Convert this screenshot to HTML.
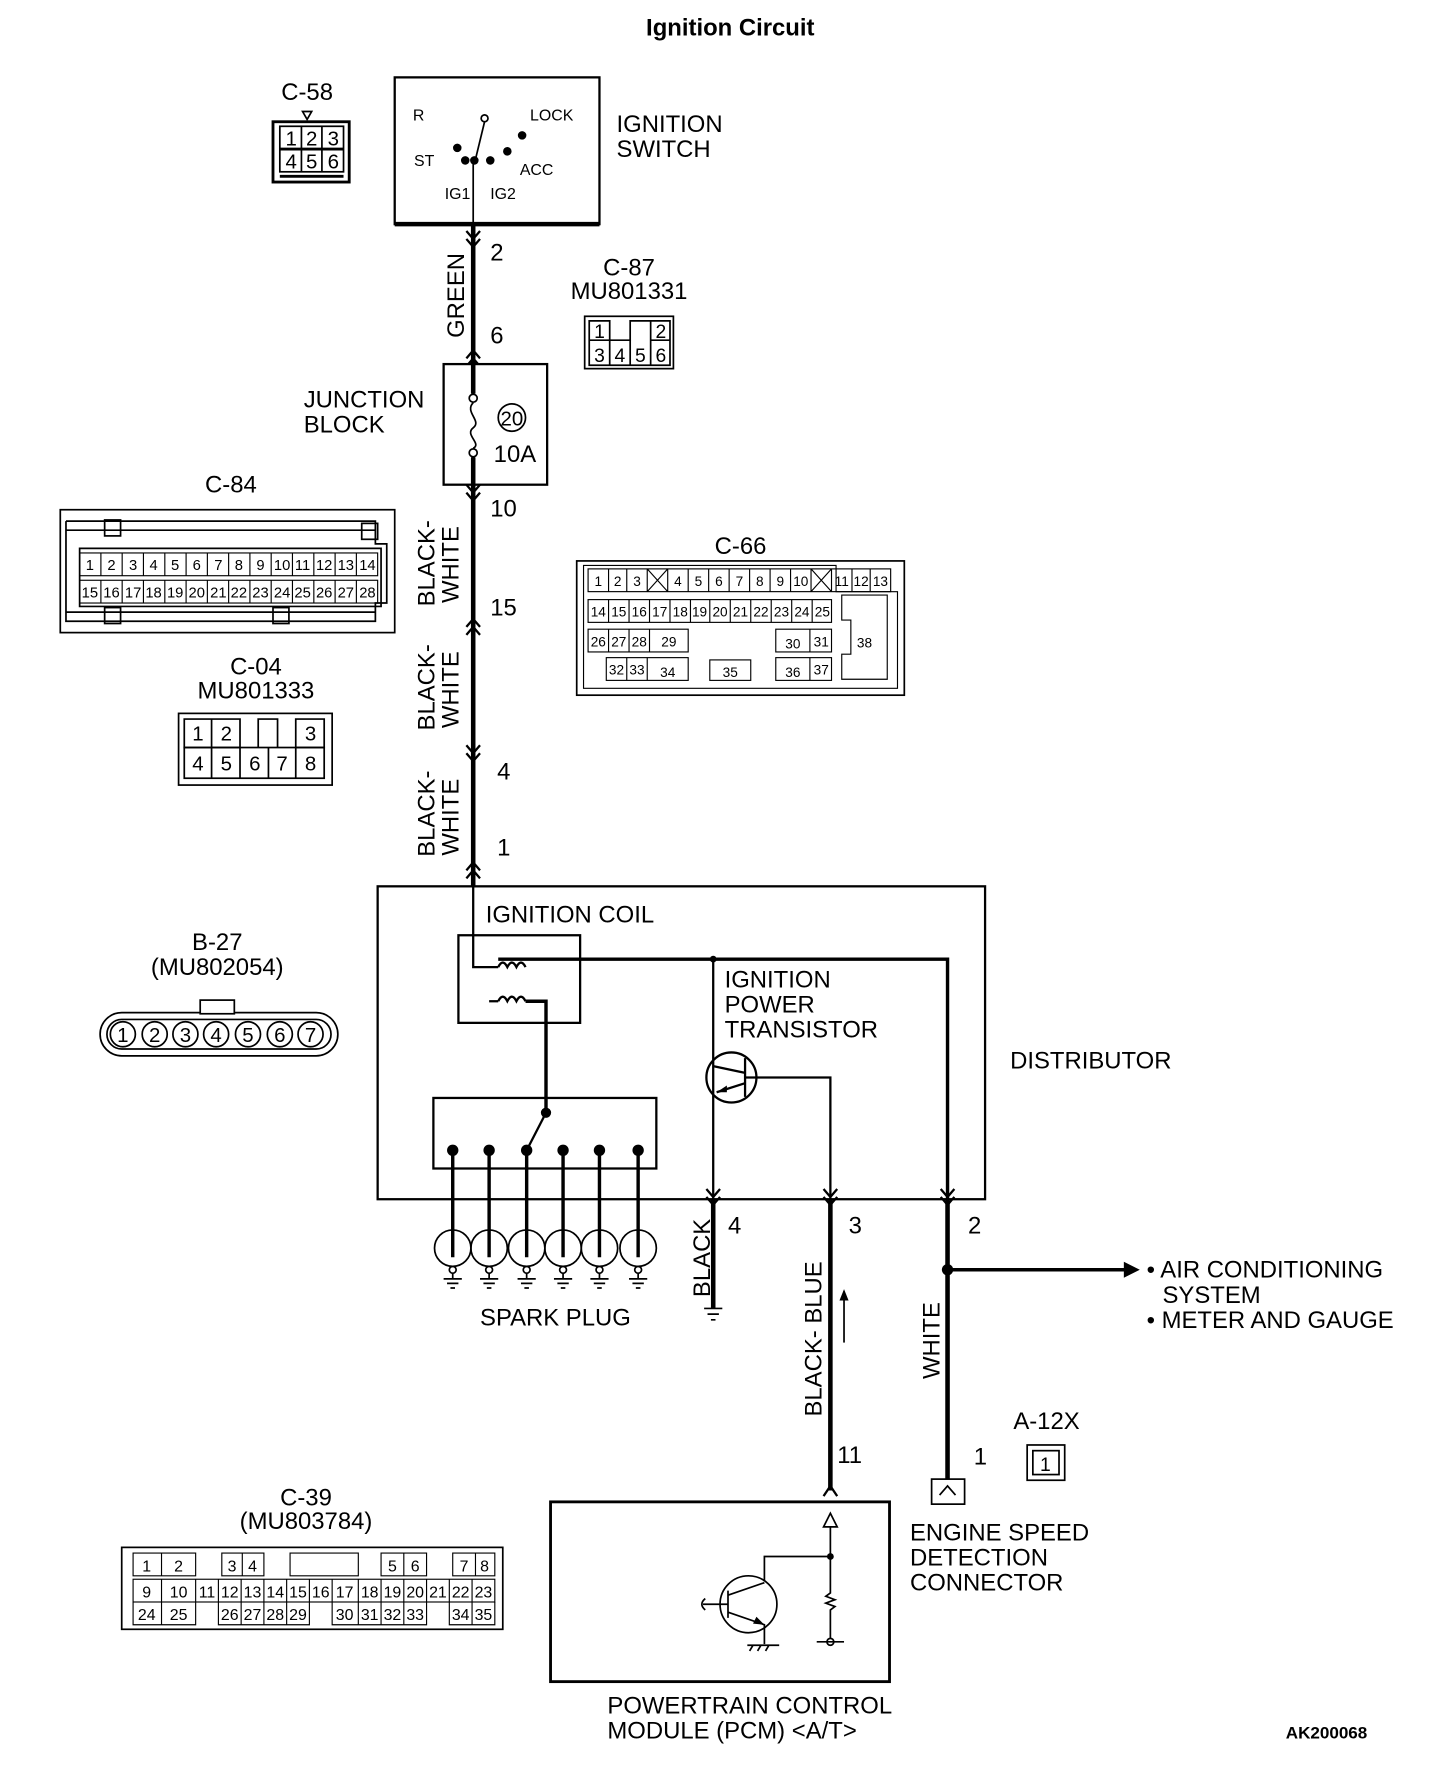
<!DOCTYPE html>
<html><head><meta charset="utf-8"><style>html,body{margin:0;padding:0;background:#fff}svg{display:block}text{font-family:"Liberation Sans",sans-serif;fill:#000}</style></head><body>
<svg width="1456" height="1792" viewBox="0 0 1280 1575" preserveAspectRatio="none" xmlns="http://www.w3.org/2000/svg">
<rect width="1280" height="1575" fill="#fff"/>
<g font-size="21">
<text x="642" y="31" font-size="21" font-weight="bold" text-anchor="middle">Ignition Circuit</text>

<!-- Ignition switch -->
<rect x="347" y="68" width="180" height="129" fill="none" stroke="#000" stroke-width="2"/>
<line x1="347" y1="197" x2="527" y2="197" stroke="#000" stroke-width="4"/>
<g font-size="14"><text x="363" y="106">R</text><text x="466" y="106">LOCK</text><text x="364" y="146">ST</text><text x="457" y="154">ACC</text><text x="391" y="175">IG1</text><text x="431" y="175">IG2</text></g>
<g stroke="#000" stroke-width="1.5" fill="#000"><circle cx="426" cy="104" r="3" fill="none"/><line x1="426" y1="107" x2="418" y2="140"/><circle cx="402" cy="130" r="3"/><circle cx="409" cy="141" r="3"/><circle cx="417" cy="141" r="3"/><circle cx="431" cy="141" r="3"/><circle cx="446" cy="133" r="3"/><circle cx="459" cy="119" r="3"/><line x1="416" y1="141" x2="416" y2="212"/></g>
<text x="542" y="116">IGNITION</text><text x="542" y="138">SWITCH</text>

<!-- C-58 -->
<text x="270" y="88" text-anchor="middle">C-58</text>
<path d="M266 98 L274 98 L270 105 Z" fill="none" stroke="#000" stroke-width="1.5"/>
<rect x="240" y="107" width="67" height="53" fill="none" stroke="#000" stroke-width="2.5"/>
<g fill="none" stroke="#000" stroke-width="1.5"><rect x="246" y="111" width="56" height="40"/><line x1="246" y1="131" x2="302" y2="131" stroke-width="2.5"/><line x1="265" y1="111" x2="265" y2="151"/><line x1="283" y1="111" x2="283" y2="151"/><line x1="246" y1="155" x2="302" y2="155" stroke-width="2.5"/></g>
<g font-size="18" text-anchor="middle"><text x="256" y="128">1</text><text x="274" y="128">2</text><text x="293" y="128">3</text><text x="256" y="148">4</text><text x="274" y="148">5</text><text x="293" y="148">6</text></g>

<!-- main wire -->
<line x1="416" y1="197" x2="416" y2="780" stroke="#000" stroke-width="4"/>
<g fill="none" stroke="#000" stroke-width="2">
<path d="M410 203 L416 210 L422 203 M410 210 L416 217 L422 210"/>
<path d="M410 315 L416 308 L422 315 M410 322 L416 315 L422 322"/>
<path d="M410 426 L416 433 L422 426 M410 433 L416 440 L422 433"/>
<path d="M410 551 L416 544 L422 551 M410 558 L416 551 L422 558"/>
<path d="M410 655 L416 662 L422 655 M410 662 L416 669 L422 662"/>
<path d="M410 765 L416 758 L422 765 M410 772 L416 765 L422 772"/>
</g>
<text x="431" y="229">2</text><text x="431" y="302">6</text><text x="431" y="454">10</text><text x="431" y="541">15</text><text x="437" y="685">4</text><text x="437" y="752">1</text>
<g font-size="21"><text transform="translate(408,297) rotate(-90)">GREEN</text>
<text transform="translate(382,533) rotate(-90)">BLACK-</text><text transform="translate(403,530) rotate(-90)">WHITE</text>
<text transform="translate(382,642) rotate(-90)">BLACK-</text><text transform="translate(403,640) rotate(-90)">WHITE</text>
<text transform="translate(382,753) rotate(-90)">BLACK-</text><text transform="translate(403,752) rotate(-90)">WHITE</text></g>

<!-- C-87 -->
<text x="553" y="242" text-anchor="middle">C-87</text><text x="553" y="263" text-anchor="middle">MU801331</text>
<rect x="514" y="278" width="78" height="46" fill="none" stroke="#000" stroke-width="1.5"/>
<g fill="none" stroke="#000" stroke-width="1.5"><path d="M518 282 L536 282 L536 299 L554 299 L554 282 L572 282 L572 282 L589 282 L589 321 L518 321 Z"/><line x1="518" y1="299" x2="536" y2="299"/><line x1="572" y1="299" x2="589" y2="299"/><line x1="536" y1="299" x2="536" y2="321"/><line x1="554" y1="299" x2="554" y2="321"/><line x1="572" y1="282" x2="572" y2="321"/></g>
<g font-size="17" text-anchor="middle"><text x="527" y="297">1</text><text x="581" y="297">2</text><text x="527" y="318">3</text><text x="545" y="318">4</text><text x="563" y="318">5</text><text x="581" y="318">6</text></g>

<!-- Junction block -->
<rect x="390" y="320" width="91" height="106" fill="#fff" stroke="#000" stroke-width="2"/>
<line x1="416" y1="320" x2="416" y2="346" stroke="#000" stroke-width="4"/><line x1="416" y1="402" x2="416" y2="426" stroke="#000" stroke-width="4"/>
<circle cx="416" cy="350" r="3.5" fill="none" stroke="#000" stroke-width="1.5"/><circle cx="416" cy="398" r="3.5" fill="none" stroke="#000" stroke-width="1.5"/>
<path d="M416 354 C 408 362, 424 370, 416 376 C 408 382, 424 390, 416 394" fill="none" stroke="#000" stroke-width="1.5"/>
<circle cx="450" cy="367" r="12" fill="none" stroke="#000" stroke-width="1.5"/><text x="450" y="374" text-anchor="middle" font-size="18">20</text>
<text x="434" y="406">10A</text>
<text x="267" y="358">JUNCTION</text><text x="267" y="380">BLOCK</text>

<!-- C-84 -->
<text x="203" y="433" text-anchor="middle">C-84</text>
<rect x="53" y="448" width="294" height="108" fill="none" stroke="#000" stroke-width="1.5"/>
<g fill="none" stroke="#000" stroke-width="1.5"><path d="M58 458 L330 458 L330 478 L340 478 L340 530 L330 530 L330 546 L58 546 L58 458"/><path d="M58 466 L330 466 M58 538 L330 538"/><rect x="92" y="457" width="14" height="14"/><rect x="92" y="534" width="14" height="14"/><rect x="240" y="534" width="14" height="14"/><rect x="318" y="460" width="14" height="14"/><path d="M70 482 L335 482 L335 533 L70 533 Z"/></g>
<g fill="none" stroke="#000" stroke-width="1"><rect x="70" y="486" width="262" height="20"/><rect x="70" y="510" width="262" height="20"/>
<path d="M88.7 486v20M107.4 486v20M126.1 486v20M144.9 486v20M163.6 486v20M182.3 486v20M201 486v20M219.7 486v20M238.4 486v20M257.1 486v20M275.9 486v20M294.6 486v20M313.3 486v20"/>
<path d="M88.7 510v20M107.4 510v20M126.1 510v20M144.9 510v20M163.6 510v20M182.3 510v20M201 510v20M219.7 510v20M238.4 510v20M257.1 510v20M275.9 510v20M294.6 510v20M313.3 510v20"/></g>
<g font-size="13" text-anchor="middle"><text x="79" y="501">1</text><text x="98" y="501">2</text><text x="117" y="501">3</text><text x="135" y="501">4</text><text x="154" y="501">5</text><text x="173" y="501">6</text><text x="192" y="501">7</text><text x="210" y="501">8</text><text x="229" y="501">9</text><text x="248" y="501">10</text><text x="266" y="501">11</text><text x="285" y="501">12</text><text x="304" y="501">13</text><text x="323" y="501">14</text>
<text x="79" y="525">15</text><text x="98" y="525">16</text><text x="117" y="525">17</text><text x="135" y="525">18</text><text x="154" y="525">19</text><text x="173" y="525">20</text><text x="192" y="525">21</text><text x="210" y="525">22</text><text x="229" y="525">23</text><text x="248" y="525">24</text><text x="266" y="525">25</text><text x="285" y="525">26</text><text x="304" y="525">27</text><text x="323" y="525">28</text></g>

<!-- C-66 -->
<text x="651" y="487" text-anchor="middle">C-66</text>
<rect x="507" y="493" width="288" height="118" fill="none" stroke="#000" stroke-width="1.5"/>
<path d="M513 497 L735 497 L735 520 L789 520 L789 605 L513 605 Z" fill="none" stroke="#000" stroke-width="1"/>
<g fill="none" stroke="#000" stroke-width="1">
<rect x="517" y="500" width="266" height="20"/><path d="M535 500v20M551 500v20M569 500v20M587 500v20M605 500v20M623 500v20M641 500v20M659 500v20M677 500v20M695 500v20M713 500v20M731 500v20M749 500v20M765 500v20M569 500l18 20M587 500l-18 20M713 500l18 20M731 500l-18 20"/>
<rect x="517" y="527" width="214" height="20"/><path d="M535 527v20M553 527v20M571 527v20M589 527v20M607 527v20M624 527v20M642 527v20M660 527v20M678 527v20M696 527v20M714 527v20"/>
<rect x="517" y="553" width="88" height="20"/><path d="M535 553v20M553 553v20M571 553v20"/><rect x="682" y="553" width="49" height="20"/><path d="M712 553v20"/>
<rect x="533" y="578" width="72" height="20"/><path d="M551 578v20M569 578v20"/><rect x="624" y="580" width="36" height="18"/><rect x="682" y="578" width="49" height="20"/><path d="M712 578v20"/>
<path d="M740 523 L780 523 L780 597 L740 597 L740 575 L748 575 L748 545 L740 545 Z"/>
</g>
<g font-size="12" text-anchor="middle"><text x="526" y="515">1</text><text x="543" y="515">2</text><text x="560" y="515">3</text><text x="596" y="515">4</text><text x="614" y="515">5</text><text x="632" y="515">6</text><text x="650" y="515">7</text><text x="668" y="515">8</text><text x="686" y="515">9</text><text x="704" y="515">10</text><text x="740" y="515">11</text><text x="757" y="515">12</text><text x="774" y="515">13</text>
<text x="526" y="542">14</text><text x="544" y="542">15</text><text x="562" y="542">16</text><text x="580" y="542">17</text><text x="598" y="542">18</text><text x="615" y="542">19</text><text x="633" y="542">20</text><text x="651" y="542">21</text><text x="669" y="542">22</text><text x="687" y="542">23</text><text x="705" y="542">24</text><text x="723" y="542">25</text>
<text x="526" y="568">26</text><text x="544" y="568">27</text><text x="562" y="568">28</text><text x="588" y="568">29</text><text x="697" y="570">30</text><text x="722" y="568">31</text>
<text x="542" y="593">32</text><text x="560" y="593">33</text><text x="587" y="595">34</text><text x="642" y="595">35</text><text x="697" y="595">36</text><text x="722" y="593">37</text><text x="760" y="569">38</text></g>

<!-- C-04 -->
<text x="225" y="593" text-anchor="middle">C-04</text><text x="225" y="614" text-anchor="middle">MU801333</text>
<rect x="157" y="627" width="135" height="63" fill="none" stroke="#000" stroke-width="1.5"/>
<g fill="none" stroke="#000" stroke-width="1.5"><path d="M162 632 L211 632 L211 657 L162 657 Z M186 632v25 M227 657 L227 632 L244 632 L244 657 M260 632 L285 632 L285 657 L260 657 Z"/><rect x="162" y="657" width="123" height="27"/><path d="M186 657v27M211 657v27M236 657v27M260 657v27"/></g>
<g font-size="18" text-anchor="middle"><text x="174" y="651">1</text><text x="199" y="651">2</text><text x="273" y="651">3</text><text x="174" y="677">4</text><text x="199" y="677">5</text><text x="224" y="677">6</text><text x="248" y="677">7</text><text x="273" y="677">8</text></g>

<!-- B-27 -->
<text x="191" y="835" text-anchor="middle">B-27</text><text x="191" y="857" text-anchor="middle">(MU802054)</text>
<rect x="88" y="890" width="209" height="38" rx="19" fill="none" stroke="#000" stroke-width="1.5"/>
<rect x="176" y="879" width="30" height="12" fill="#fff" stroke="#000" stroke-width="1.5"/>
<rect x="94" y="896" width="197" height="26" rx="13" fill="none" stroke="#000" stroke-width="1.5"/>
<g fill="none" stroke="#000" stroke-width="1.5"><circle cx="108" cy="909" r="11"/><circle cx="136" cy="909" r="11"/><circle cx="163" cy="909" r="11"/><circle cx="190" cy="909" r="11"/><circle cx="218" cy="909" r="11"/><circle cx="246" cy="909" r="11"/><circle cx="273" cy="909" r="11"/></g>
<g font-size="18" text-anchor="middle"><text x="108" y="916">1</text><text x="136" y="916">2</text><text x="163" y="916">3</text><text x="190" y="916">4</text><text x="218" y="916">5</text><text x="246" y="916">6</text><text x="273" y="916">7</text></g>

<!-- Distributor -->
<rect x="332" y="779" width="534" height="275" fill="none" stroke="#000" stroke-width="2"/>
<text x="888" y="939">DISTRIBUTOR</text>
<text x="427" y="811">IGNITION COIL</text>
<rect x="403" y="822" width="107" height="77" fill="none" stroke="#000" stroke-width="2"/>
<g fill="none" stroke="#000" stroke-width="2">
<path d="M416 780 L416 850 L438 850"/><path d="M438 850 q4 -8 8 0 q4 -8 8 0 q4 -8 8 0 L462 850"/><path d="M438 843 L462 843 L833 843 L833 1054" stroke-width="3"/>
<path d="M438 880 q4 -8 8 0 q4 -8 8 0 q4 -8 8 0"/><path d="M430 880 L438 880"/><path d="M462 880 L480 880 L480 978" stroke-width="3"/>
<line x1="627" y1="843" x2="627" y2="1054"/><path d="M627 937 L655 943 M655 930 L655 964 M655 947 L665 947 L730 947 L730 1054"/><path d="M655 952 L630 960"/>
<circle cx="643" cy="947" r="22"/>
<rect x="381" y="965" width="196" height="62"/>
<line x1="480" y1="978" x2="463" y2="1011"/>
</g>
<circle cx="627" cy="843" r="3" fill="#000"/><circle cx="480" cy="978" r="4.5" fill="#000"/>
<path d="M630 960 l9 -6 l0 6 z" fill="#000"/>
<text x="637" y="868">IGNITION</text><text x="637" y="890">POWER</text><text x="637" y="912">TRANSISTOR</text>
<!-- contacts & plugs -->
<g stroke="#000" fill="#000">
<g stroke-width="3"><line x1="398" y1="1011" x2="398" y2="1105"/><line x1="430" y1="1011" x2="430" y2="1105"/><line x1="463" y1="1011" x2="463" y2="1105"/><line x1="495" y1="1011" x2="495" y2="1105"/><line x1="527" y1="1011" x2="527" y2="1105"/><line x1="561" y1="1011" x2="561" y2="1105"/></g>
<circle cx="398" cy="1011" r="4.5"/><circle cx="430" cy="1011" r="4.5"/><circle cx="463" cy="1011" r="4.5"/><circle cx="495" cy="1011" r="4.5"/><circle cx="527" cy="1011" r="4.5"/><circle cx="561" cy="1011" r="4.5"/>
<g fill="none" stroke-width="1.5"><circle cx="398" cy="1097" r="16"/><circle cx="430" cy="1097" r="16"/><circle cx="463" cy="1097" r="16"/><circle cx="495" cy="1097" r="16"/><circle cx="527" cy="1097" r="16"/><circle cx="561" cy="1097" r="16"/>
<circle cx="398" cy="1116" r="3"/><circle cx="430" cy="1116" r="3"/><circle cx="463" cy="1116" r="3"/><circle cx="495" cy="1116" r="3"/><circle cx="527" cy="1116" r="3"/><circle cx="561" cy="1116" r="3"/>
<path d="M398 1119v5M390 1124h16M393 1128h10M396 1132h4 M430 1119v5M422 1124h16M425 1128h10M428 1132h4 M463 1119v5M455 1124h16M458 1128h10M461 1132h4 M495 1119v5M487 1124h16M490 1128h10M493 1132h4 M527 1119v5M519 1124h16M522 1128h10M525 1132h4 M561 1119v5M553 1124h16M556 1128h10M559 1132h4"/></g>
</g>
<text x="422" y="1165">SPARK PLUG</text>

<!-- lower wires -->
<g stroke="#000" fill="none">
<line x1="627" y1="1054" x2="627" y2="1150" stroke-width="4"/><path d="M619 1150h16M622 1155h10M625 1160h4" stroke-width="1.5"/>
<line x1="730" y1="1054" x2="730" y2="1310" stroke-width="4"/>
<line x1="833" y1="1054" x2="833" y2="1300" stroke-width="4"/>
<line x1="833" y1="1116" x2="990" y2="1116" stroke-width="3"/>
<path d="M621 1045 L627 1052 L633 1045 M621 1052 L627 1059 L633 1052 M724 1045 L730 1052 L736 1045 M724 1052 L730 1059 L736 1052 M827 1045 L833 1052 L839 1045 M827 1052 L833 1059 L839 1052" stroke-width="2"/>
<line x1="742" y1="1180" x2="742" y2="1135" stroke-width="1.5"/>
<path d="M724 1315 L730 1306 L736 1315" stroke-width="2"/>
</g>
<path d="M742 1133 l-4 10 h8 z" fill="#000"/>
<circle cx="833" cy="1116" r="5" fill="#000"/><path d="M988 1109 L1002 1116 L988 1123 Z" fill="#000"/>
<text x="640" y="1084">4</text><text x="746" y="1084">3</text><text x="851" y="1084">2</text><text x="736" y="1286">11</text><text x="856" y="1287">1</text>
<text transform="translate(624,1140) rotate(-90)">BLACK</text>
<text transform="translate(722,1245) rotate(-90)">BLACK- BLUE</text>
<text transform="translate(826,1212) rotate(-90)">WHITE</text>
<text x="1008" y="1123">• AIR CONDITIONING</text><text x="1022" y="1145">SYSTEM</text><text x="1008" y="1167">• METER AND GAUGE</text>

<!-- A-12X -->
<text x="920" y="1256" text-anchor="middle">A-12X</text>
<rect x="903" y="1270" width="33" height="31" fill="none" stroke="#000" stroke-width="1.5"/><rect x="908" y="1275" width="23" height="21" fill="none" stroke="#000" stroke-width="1.5"/><text x="919" y="1293" text-anchor="middle" font-size="17">1</text>
<rect x="819" y="1300" width="29" height="22" fill="none" stroke="#000" stroke-width="1.5"/><path d="M826 1314 L833 1306 L840 1314" fill="none" stroke="#000" stroke-width="1.5"/>
<text x="800" y="1354">ENGINE SPEED</text><text x="800" y="1376">DETECTION</text><text x="800" y="1398">CONNECTOR</text>

<!-- PCM -->
<rect x="484" y="1320" width="298" height="158" fill="none" stroke="#000" stroke-width="2.5"/>
<g fill="none" stroke="#000" stroke-width="1.5">
<path d="M724 1342 L730 1330 L736 1342 Z"/><path d="M730 1342 L730 1368 L672 1368 L672 1390"/><path d="M730 1368 L730 1400 l-4 3 l8 3 l-8 3 l8 3 l-4 3 L730 1440"/><circle cx="730" cy="1443" r="3"/><path d="M718 1443 h24"/>
<circle cx="658" cy="1410" r="25"/><path d="M640 1398v24M618 1410h22M640 1402L672 1391M640 1417L672 1428L672 1445"/><path d="M620 1405 q-6 5 0 10"/><path d="M657 1446h28M662 1446l-3 5M669 1446l-3 5M676 1446l-3 5"/>
</g>
<circle cx="730" cy="1368" r="3" fill="#000"/>
<path d="M672 1428 l-10 -1 l3 -6 z" fill="#000"/>
<text x="534" y="1506">POWERTRAIN CONTROL</text><text x="534" y="1528">MODULE (PCM) &lt;A/T&gt;</text>
<text x="1202" y="1528" font-size="15" font-weight="bold" text-anchor="end">AK200068</text>

<!-- C-39 -->
<text x="269" y="1323" text-anchor="middle">C-39</text><text x="269" y="1344" text-anchor="middle">(MU803784)</text>
<rect x="107" y="1360" width="335" height="72" fill="none" stroke="#000" stroke-width="1.5"/>
<g fill="none" stroke="#000" stroke-width="1">
<path d="M117 1365h55v20h-55zM142 1365v20M195 1365h37v20h-37zM213 1365v20M255 1365h60v20h-60zM335 1365h40v20h-40zM355 1365v20M398 1365h37v20h-37zM418 1365v20"/>
<rect x="117" y="1388" width="318" height="20"/><path d="M142 1388v20M172 1388v20M192 1388v20M212 1388v20M232 1388v20M252 1388v20M272 1388v20M292 1388v20M315 1388v20M335 1388v20M355 1388v20M375 1388v20M395 1388v20M415 1388v20"/>
<path d="M117 1408v20h55v-20M142 1408v20M192 1408v20h80v-20M212 1408v20M232 1408v20M252 1408v20M292 1408v20h83v-20M315 1408v20M335 1408v20M355 1408v20M395 1408v20h40v-20M415 1408v20"/>
</g>
<g font-size="14" text-anchor="middle"><text x="129" y="1381">1</text><text x="157" y="1381">2</text><text x="204" y="1381">3</text><text x="222" y="1381">4</text><text x="345" y="1381">5</text><text x="365" y="1381">6</text><text x="408" y="1381">7</text><text x="426" y="1381">8</text>
<text x="129" y="1404">9</text><text x="157" y="1404">10</text><text x="182" y="1404">11</text><text x="202" y="1404">12</text><text x="222" y="1404">13</text><text x="242" y="1404">14</text><text x="262" y="1404">15</text><text x="282" y="1404">16</text><text x="303" y="1404">17</text><text x="325" y="1404">18</text><text x="345" y="1404">19</text><text x="365" y="1404">20</text><text x="385" y="1404">21</text><text x="405" y="1404">22</text><text x="425" y="1404">23</text>
<text x="129" y="1424">24</text><text x="157" y="1424">25</text><text x="202" y="1424">26</text><text x="222" y="1424">27</text><text x="242" y="1424">28</text><text x="262" y="1424">29</text><text x="303" y="1424">30</text><text x="325" y="1424">31</text><text x="345" y="1424">32</text><text x="365" y="1424">33</text><text x="405" y="1424">34</text><text x="425" y="1424">35</text></g>
</g>
</svg>
</body></html>
